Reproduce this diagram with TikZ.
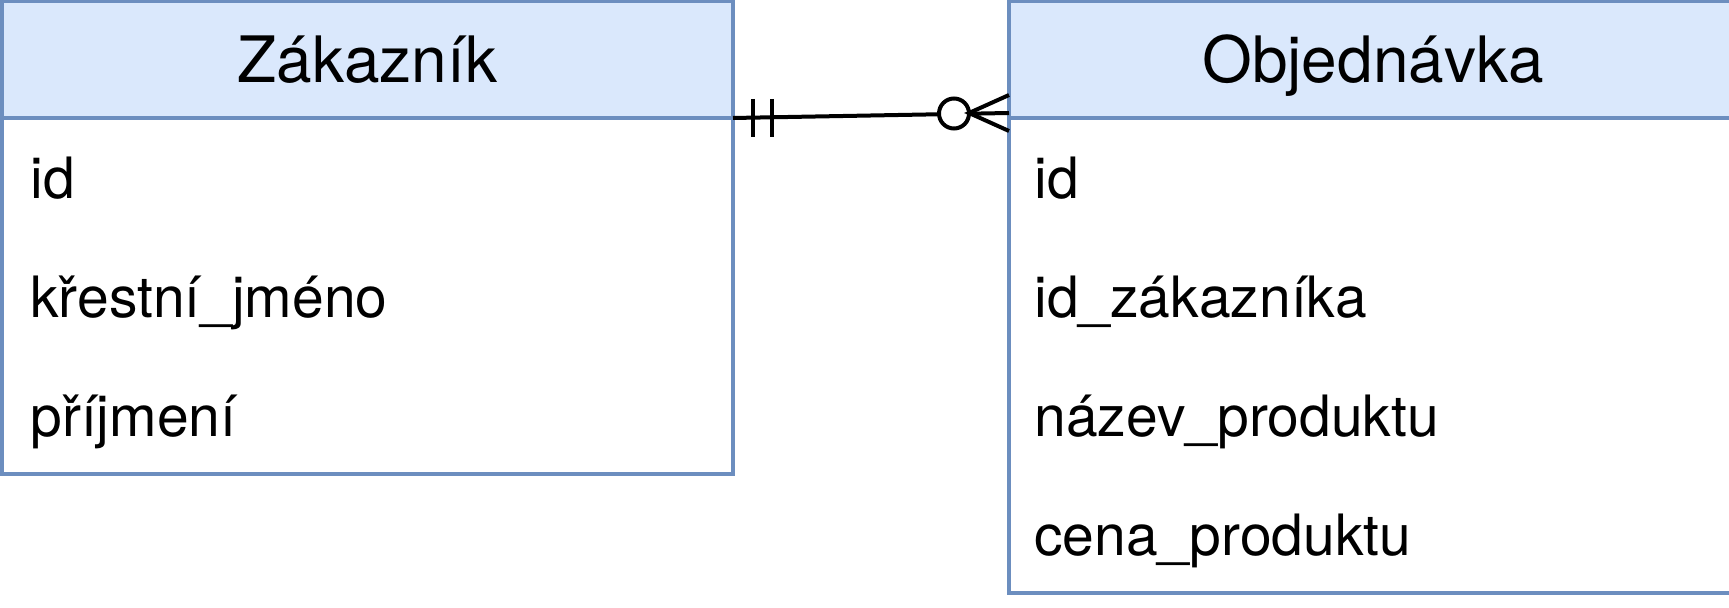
\documentclass[tikz,border=0pt]{standalone}
\usepackage{fontspec}
\setmainfont{TeX Gyre Heros}
\usetikzlibrary{positioning}
\definecolor{headblue}{HTML}{DAE8FC}
\definecolor{edgeblue}{HTML}{6C8EBF}
\newcommand{\headfont}{\fontsize{32}{38}\selectfont}
\newcommand{\rowfont}{\fontsize{28.5}{34}\selectfont}

\begin{document}
\begin{tikzpicture}[x=0.5pt,y=-0.5pt,
    head/.style={draw=edgeblue,fill=headblue,line width=1.75pt,inner sep=0pt,outer sep=0pt,
      minimum height=58.5pt,text height=23.5pt,text depth=0pt,font=\headfont},
    body/.style={draw=edgeblue,fill=white,line width=1.75pt,inner sep=0pt,outer sep=0pt},
    row/.style={anchor=base west,inner sep=0pt,font=\rowfont},
    rel/.style={line width=2pt,black}]
  \useasboundingbox (0,0) rectangle (1729,608);
  % Zakaznik
  \node[head,minimum width=365.5pt,anchor=north west] (zakHead) at (2,1) {Zákazník};
  \node[body,minimum width=365.5pt,minimum height=178pt,below=0pt of zakHead] (zakBody) {};
  \node[row] (zakId) at (30,199) {id};
  \node[row] (zakJmeno) at (30,318) {křestní\_jméno};
  \node[row] (zakPrijmeni) at (30,437) {příjmení};
  % Objednavka
  \node[head,minimum width=364pt,anchor=north west] (objHead) at (1009,1) {Objednávka};
  \node[body,minimum width=364pt,minimum height=237.5pt,below=0pt of objHead] (objBody) {};
  \node[row] (objId) at (1034,199) {id};
  \node[row] (objZak) at (1034,318) {id\_zákazníka};
  \node[row] (objNazev) at (1034,437) {název\_produktu};
  \node[row] (objCena) at (1034,556) {cena\_produktu};
  % vztah 1 : N
  \draw[rel] (zakHead.south east) -- ([yshift=2.5pt]objHead.south west);
  \draw[rel] (753,99) -- (753,137);
  \draw[rel] (772,99) -- (772,137);
  \draw[rel,fill=white] (954,113.5) circle (7.5pt);
  \draw[rel] (1009,95) -- (969,113) -- (1009,131);
\end{tikzpicture}
\end{document}
